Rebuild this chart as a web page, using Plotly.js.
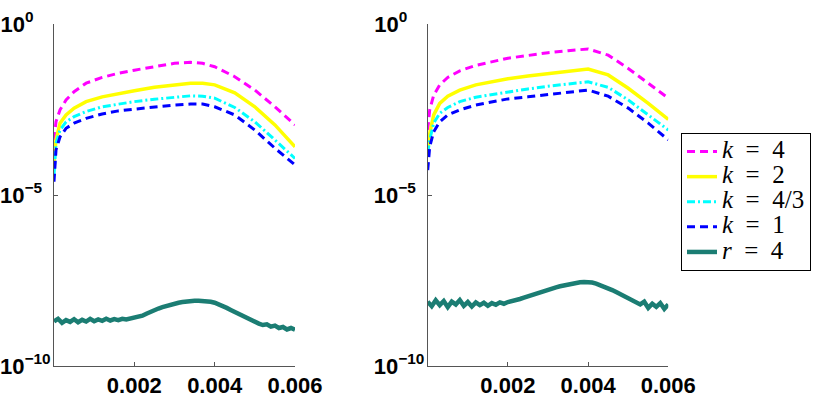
<!DOCTYPE html>
<html>
<head>
<meta charset="utf-8">
<script src="https://cdn.plot.ly/plotly-3.0.1.min.js"></script>
<style>html,body{margin:0;padding:0;background:#fff;}#chart{width:830px;height:397px;}</style>
</head>
<body>
<div id="chart"></div>
<script>
// ---- data ----
const seriesNames = ['<i>k</i>\u00a0\u00a0=\u00a0\u00a04', '<i>k</i>\u00a0\u00a0=\u00a0\u00a02', '<i>k</i>\u00a0\u00a0=\u00a0\u00a04/3', '<i>k</i>\u00a0\u00a0=\u00a0\u00a01', '<i>r</i>\u00a0\u00a0=\u00a0\u00a04'];

const xLeft = [0, 0.00005, 0.00015, 0.0003, 0.0005, 0.0008, 0.0012, 0.0016, 0.002, 0.0025, 0.003, 0.0034, 0.0037, 0.004, 0.0045, 0.005, 0.0055, 0.006];
const leftK4  = [4.07e-4, 1.41e-3, 3.09e-3, 6.03e-3, 1.05e-2, 1.86e-2, 2.75e-2, 3.63e-2, 4.47e-2, 5.62e-2, 7.08e-2, 7.59e-2, 7.08e-2, 5.62e-2, 2.88e-2, 1.17e-2, 3.80e-3, 1.12e-3];
const leftK2  = [9.33e-5, 4.07e-4, 1.26e-3, 2.19e-3, 3.47e-3, 5.37e-3, 7.41e-3, 9.33e-3, 1.12e-2, 1.41e-2, 1.66e-2, 1.86e-2, 1.86e-2, 1.66e-2, 9.77e-3, 3.80e-3, 1.12e-3, 2.57e-4];
const leftK43 = [3.80e-5, 3.24e-4, 7.94e-4, 1.38e-3, 1.95e-3, 2.75e-3, 3.80e-3, 4.57e-3, 5.37e-3, 6.31e-3, 7.24e-3, 7.94e-3, 7.76e-3, 6.76e-3, 3.63e-3, 1.38e-3, 4.07e-4, 1.17e-4];
const leftK1  = [2.45e-5, 2.09e-4, 5.01e-4, 8.91e-4, 1.26e-3, 1.74e-3, 2.34e-3, 2.88e-3, 3.24e-3, 3.80e-3, 4.27e-3, 4.57e-3, 4.57e-3, 3.80e-3, 2.19e-3, 7.94e-4, 2.34e-4, 7.59e-5];

const xRight = [0, 0.00005, 0.00015, 0.0003, 0.0005, 0.0008, 0.0012, 0.0016, 0.002, 0.0025, 0.003, 0.0035, 0.0038, 0.004, 0.0045, 0.005, 0.0055, 0.006];
const rightK4  = [7.94e-4, 3.09e-3, 8.32e-3, 1.66e-2, 2.75e-2, 4.27e-2, 6.17e-2, 7.94e-2, 1.00e-1, 1.20e-1, 1.45e-1, 1.66e-1, 1.82e-1, 1.86e-1, 1.23e-1, 5.01e-2, 1.86e-2, 6.76e-3];
const rightK2  = [2.09e-4, 6.31e-4, 2.19e-3, 4.79e-3, 7.76e-3, 1.17e-2, 1.66e-2, 2.04e-2, 2.51e-2, 3.02e-2, 3.55e-2, 4.07e-2, 4.47e-2, 4.79e-2, 3.24e-2, 1.32e-2, 4.79e-3, 1.62e-3];
const rightK43 = [1.66e-4, 4.07e-4, 1.26e-3, 2.45e-3, 3.63e-3, 5.37e-3, 7.24e-3, 8.71e-3, 1.05e-2, 1.26e-2, 1.51e-2, 1.74e-2, 1.91e-2, 2.04e-2, 1.41e-2, 6.03e-3, 2.19e-3, 7.94e-4];
const rightK1  = [5.37e-5, 2.57e-4, 7.08e-4, 1.38e-3, 2.19e-3, 3.09e-3, 4.27e-3, 5.37e-3, 6.46e-3, 7.41e-3, 8.71e-3, 1.00e-2, 1.10e-2, 1.17e-2, 7.76e-3, 3.47e-3, 1.26e-3, 4.07e-4];

const xNoisy = [0, 0.0001, 0.0002, 0.0003, 0.0004, 0.0005, 0.0006, 0.0007, 0.0008, 0.0009,
  0.0010, 0.0011, 0.0012, 0.0013, 0.0014, 0.0015, 0.0016, 0.0017, 0.0018, 0.0019,
  0.0020, 0.0021, 0.0022, 0.0023, 0.0024, 0.0025, 0.0026, 0.0027, 0.0028, 0.0029,
  0.0030, 0.0031, 0.0032, 0.0033, 0.0034, 0.0035, 0.0036, 0.0037, 0.0038, 0.0039,
  0.0040, 0.0041, 0.0042, 0.0043, 0.0044, 0.0045, 0.0046, 0.0047, 0.0048, 0.0049,
  0.0050, 0.0051, 0.0052, 0.0053, 0.0054, 0.0055, 0.0056, 0.0057, 0.0058, 0.0059, 0.0060];
const leftR4 = [2.00e-9, 2.40e-9, 1.82e-9, 2.19e-9, 1.95e-9, 2.34e-9, 1.91e-9, 2.24e-9, 2.00e-9, 2.40e-9,
  2.04e-9, 2.29e-9, 2.09e-9, 2.40e-9, 2.14e-9, 2.34e-9, 2.19e-9, 2.40e-9, 2.29e-9, 2.45e-9,
  2.51e-9, 2.69e-9, 2.95e-9, 3.39e-9, 3.89e-9, 4.37e-9, 4.79e-9, 5.25e-9, 5.75e-9, 6.17e-9,
  6.61e-9, 7.08e-9, 7.41e-9, 7.76e-9, 7.94e-9, 8.13e-9, 8.13e-9, 8.13e-9, 7.94e-9, 7.59e-9,
  7.08e-9, 6.46e-9, 5.75e-9, 5.01e-9, 4.37e-9, 3.80e-9, 3.31e-9, 2.82e-9, 2.45e-9, 2.14e-9,
  1.91e-9, 1.74e-9, 1.58e-9, 1.66e-9, 1.41e-9, 1.51e-9, 1.29e-9, 1.38e-9, 1.17e-9, 1.29e-9, 1.15e-9];
const rightR4 = [7.59e-9, 5.62e-9, 8.32e-9, 6.03e-9, 7.94e-9, 5.25e-9, 7.59e-9, 6.31e-9, 8.51e-9, 5.75e-9,
  7.41e-9, 5.50e-9, 7.24e-9, 6.03e-9, 7.08e-9, 5.75e-9, 6.92e-9, 6.17e-9, 7.24e-9, 6.61e-9,
  7.41e-9, 7.76e-9, 8.32e-9, 9.12e-9, 1.00e-8, 1.10e-8, 1.17e-8, 1.29e-8, 1.41e-8, 1.55e-8,
  1.70e-8, 1.86e-8, 2.00e-8, 2.14e-8, 2.29e-8, 2.45e-8, 2.57e-8, 2.69e-8, 2.82e-8, 2.88e-8,
  2.88e-8, 2.75e-8, 2.57e-8, 2.34e-8, 2.09e-8, 1.86e-8, 1.66e-8, 1.45e-8, 1.26e-8, 1.12e-8,
  1.00e-8, 8.71e-9, 7.59e-9, 6.31e-9, 7.59e-9, 5.01e-9, 6.61e-9, 5.37e-9, 6.92e-9, 4.68e-9, 6.31e-9];

const xTickVals = [0.002, 0.004, 0.006];
const xTickText = ['0.002', '0.004', '0.006'];
const yTickVals = [1e-10, 1e-5, 1];
const yTickText = ['10<sup>\u221210</sup>', '10<sup>\u22125\u00a0\u00a0</sup>', '10<sup>0\u00a0\u00a0\u00a0\u00a0</sup>'];

// ---- styles ----
const styles = [
  {color: '#ff00ff', width: 3, dash: '8px,5px'},
  {color: '#ffff00', width: 3.5, dash: 'solid'},
  {color: '#00ffff', width: 3, dash: '8px,3px,2px,3px'},
  {color: '#0000ff', width: 3, dash: '8px,5px'},
  {color: '#1b7d73', width: 4.5, dash: 'solid'}
];
const legendName = n => '<span style="font-size:25px">' + n + '</span>';

const leftSets = [leftK4, leftK2, leftK43, leftK1];
const rightSets = [rightK4, rightK2, rightK43, rightK1];
const traces = [];
leftSets.forEach((ys, i) => traces.push({
  x: xLeft, y: ys, type: 'scatter', mode: 'lines', name: legendName(seriesNames[i]),
  line: styles[i], xaxis: 'x', yaxis: 'y', legendrank: i + 1
}));
traces.push({x: xNoisy, y: leftR4, type: 'scatter', mode: 'lines', name: legendName(seriesNames[4]),
  line: styles[4], xaxis: 'x', yaxis: 'y', legendrank: 5});
rightSets.forEach((ys, i) => traces.push({
  x: xRight, y: ys, type: 'scatter', mode: 'lines', name: seriesNames[i], showlegend: false,
  line: styles[i], xaxis: 'x2', yaxis: 'y2'
}));
traces.push({x: xNoisy, y: rightR4, type: 'scatter', mode: 'lines', name: seriesNames[4], showlegend: false,
  line: styles[4], xaxis: 'x2', yaxis: 'y2'});

const tickFont = {family: 'Liberation Sans, Arial, sans-serif', size: 22, color: '#000', weight: 'bold'};
const xAxisBase = {
  range: [0, 0.006], tickvals: xTickVals, ticktext: xTickText, ticks: 'inside', ticklen: 4,
  tickcolor: '#555', showline: true, linecolor: '#555', linewidth: 1, showgrid: false, zeroline: false,
  tickfont: tickFont, fixedrange: true
};
const yAxisBase = {
  type: 'log', range: [-10, 0], tickvals: yTickVals, ticktext: yTickText, ticks: 'inside', ticklen: 4,
  tickcolor: '#555', showline: true, linecolor: '#555', linewidth: 1, showgrid: false, zeroline: false,
  tickfont: tickFont, fixedrange: true, ticklabelstandoff: -2
};

const layout = {
  width: 830, height: 397, autosize: false,
  margin: {l: 0, r: 0, t: 0, b: 0},
  paper_bgcolor: '#fff', plot_bgcolor: '#fff',
  showlegend: true,
  xaxis: Object.assign({}, xAxisBase, {domain: [54 / 830, 295 / 830], anchor: 'y'}),
  yaxis: Object.assign({}, yAxisBase, {domain: [31 / 397, 373 / 397], anchor: 'x'}),
  xaxis2: Object.assign({}, xAxisBase, {domain: [427.7 / 830, 668.3 / 830], anchor: 'y2'}),
  yaxis2: Object.assign({}, yAxisBase, {domain: [31 / 397, 373 / 397], anchor: 'x2'}),
  legend: {
    x: 681 / 830, y: (397 - 133) / 397, xanchor: 'left', yanchor: 'top',
    bgcolor: '#fff', bordercolor: '#000', borderwidth: 1,
    font: {family: 'Liberation Serif, Times New Roman, serif', size: 17, color: '#000'},
    itemwidth: 30, traceorder: 'normal'
  }
};

Plotly.newPlot('chart', traces, layout, {staticPlot: true, displayModeBar: false});
</script>
</body>
</html>
